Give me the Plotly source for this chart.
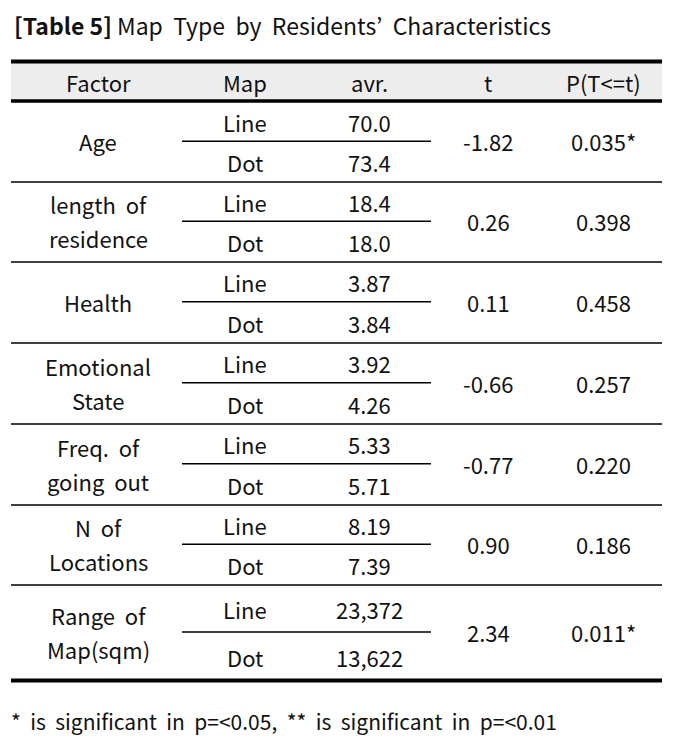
import plotly.graph_objects as go

# ---- data ----
NB = "\u00a0"
headers = ["Factor", "Map", "avr.", "t", "P(T<=t)"]
factors = [["Age"], ["length  of", "residence"], ["Health"], ["Emotional", "State"],
           ["Freq.  of", "going  out"], ["N  of", "Locations"], ["Range  of", "Map(sqm)"]]
map_types = ["Line", "Dot"]
avr_line = ["70.0", "18.4", "3.87", "3.92", "5.33", "8.19", "23,372"]
avr_dot = ["73.4", "18.0", "3.84", "4.26", "5.71", "7.39", "13,622"]
t_vals = ["-1.82", "0.26", "0.11", "-0.66", "-0.77", "0.90", "2.34"]
p_vals = ["0.035*", "0.398", "0.458", "0.257", "0.220", "0.186", "0.011*"]
title_bold = "[Table 5]"
title_rest = "Map  Type  by  Residents’  Characteristics"
footnote = "*  is  significant  in  p=<0.05,  **  is  significant  in  p=<0.01"

# ---- layout geometry ----
W, H = 675, 746
FONT = "Noto Sans CJK KR"
FS = 22
X0, X1 = 11, 662
col_x = [98, 245, 369, 488, 603]
sub_x0, sub_x1 = 182, 431
row_tops = [102, 182, 262, 343, 424, 505, 585]
row_bottom = 681

fig = go.Figure()
shapes = []
ann = []

def sp(s):
    return s.replace("  ", NB + " ")

def txt(x, y, s, size=FS, xanchor="center"):
    ann.append(dict(x=x, y=y, xref="x", yref="y", text=sp(s),
                    showarrow=False, xanchor=xanchor, yanchor="middle",
                    font=dict(family=FONT, size=size, color="#111111")))

def hline(y, x0, x1, w):
    shapes.append(dict(type="line", xref="x", yref="y", x0=x0, x1=x1, y0=y, y1=y,
                       line=dict(color="#000000", width=w)))

# header band
shapes.append(dict(type="rect", xref="x", yref="y", x0=X0, x1=X1, y0=62, y1=101,
                   fillcolor="#ededed", line=dict(width=0), layer="below"))
hline(61.5, X0, X1, 4)
hline(101, X0, X1, 3.5)
hline(680.5, X0, X1, 4)

# title
txt(12, 25, "<b>%s</b> %s" % (title_bold, title_rest), size=23, xanchor="left")

# header text
for cx, h in zip(col_x, headers):
    txt(cx, 82, h)

bounds = row_tops + [row_bottom]
for i in range(len(factors)):
    top, bot = bounds[i], bounds[i + 1]
    hgt = bot - top
    mid = top + hgt * 0.49
    if i < len(factors) - 1:
        hline(bot, X0, X1, 1.5)
    hline(mid, sub_x0, sub_x1, 1.5)
    y_line = top + hgt * 0.25
    y_dot = top + hgt * 0.75
    f = factors[i]
    if len(f) == 1:
        txt(col_x[0], mid, f[0])
    else:
        txt(col_x[0], mid - 17, f[0])
        txt(col_x[0], mid + 17, f[1])
    txt(col_x[1], y_line, map_types[0])
    txt(col_x[1], y_dot, map_types[1])
    txt(col_x[2], y_line, avr_line[i])
    txt(col_x[2], y_dot, avr_dot[i])
    txt(col_x[3], mid, t_vals[i])
    txt(col_x[4], mid, p_vals[i])

txt(9, 721, footnote, size=21, xanchor="left")

fig.update_layout(
    width=W - 8, height=H - 8, margin=dict(l=0, r=0, t=0, b=0),
    paper_bgcolor="white", plot_bgcolor="white",
    xaxis=dict(range=[8, W], visible=False, fixedrange=True),
    yaxis=dict(range=[H, 8], visible=False, fixedrange=True),
    shapes=shapes, annotations=ann, showlegend=False,
)
fig.write_html("out.html")
